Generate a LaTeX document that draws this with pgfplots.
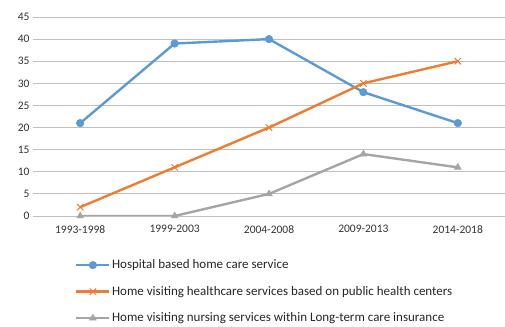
\documentclass[border=0pt]{standalone}
\usepackage{pgfplots}
\pgfplotsset{compat=1.18}
\usepackage{fontspec}
\setmainfont{Carlito}
\definecolor{cblue}{HTML}{5B9BD5}
\definecolor{corange}{HTML}{ED7D31}
\definecolor{cgray}{HTML}{A5A5A5}
\definecolor{grid}{HTML}{D9D9D9}
\begin{document}
\begin{tikzpicture}[x=1pt,y=1pt]
\useasboundingbox (0,0) rectangle (505,326);
\begin{axis}[
  at={(33pt,110pt)}, anchor=south west,
  scale only axis, width=472pt, height=199pt,
  xmin=-0.5, xmax=4.5, ymin=0, ymax=45,
  xtick={0,1,2,3,4},
  xticklabels={1993-1998,1999-2003,2004-2008,2009-2013,2014-2018},
  ytick={0,5,...,45},
  xmajorgrids=false, ymajorgrids=true,
  grid style={grid, line width=0.8pt},
  axis line style={draw=none},
  tick style={draw=none},
  xtick pos=bottom, ytick pos=left,
  /pgf/number format/assume math mode=true,
  tick label style={font=\fontsize{11.5}{13}\selectfont, text=black!80},
  yticklabel style={xshift=0pt},
  xticklabel style={yshift=-6pt},
  legend style={at={(0.089,-0.212)}, anchor=north west, draw=none, fill=none,
    font=\fontsize{13}{15}\selectfont, text=black!85, row sep=13pt,
    inner sep=0pt, nodes={inner sep=1.5pt}},
  legend cell align=left,
  legend image code/.code={
    \draw[mark repeat=2,mark phase=2,#1] plot coordinates {(0pt,0pt) (16.5pt,0pt) (33pt,0pt)};
  },
  every axis plot/.append style={line width=2.4pt, line join=round},
]
\addplot[cblue, mark=*, mark size=3.8pt, mark options={solid, line width=0.5pt}]
  coordinates {(0,21) (1,39) (2,40) (3,28) (4,21)};
\addlegendentry{Hospital based home care service}
\addplot[corange, mark=x, mark size=4.5pt, mark options={line width=1pt}]
  coordinates {(0,2) (1,11) (2,20) (3,30) (4,35)};
\addlegendentry{Home visiting healthcare services based on public health centers}
\addplot[cgray, mark=triangle*, mark size=4pt, mark options={solid, line width=0.5pt}]
  coordinates {(0,0) (1,0) (2,5) (3,14) (4,11)};
\addlegendentry{Home visiting nursing services within Long-term care insurance}
\end{axis}
\end{tikzpicture}
\end{document}
